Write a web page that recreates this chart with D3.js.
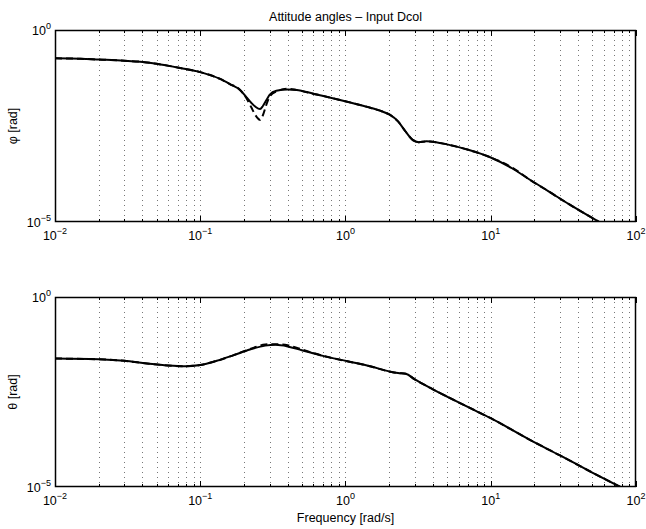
<!DOCTYPE html>
<html>
<head>
<meta charset="utf-8">
<script src="https://cdn.jsdelivr.net/npm/d3@7"></script>
<style>
  body { margin: 0; background: #fff; }
  text { font-family: "Liberation Sans", Arial, Helvetica, sans-serif; fill: #000; }
</style>
</head>
<body>
<div class="chart"></div>
<script>
// frequency points [rad/s]
const phiFreq = [0.01, 0.015, 0.02, 0.03, 0.0385, 0.05, 0.073, 0.1, 0.137, 0.16, 0.188, 0.21, 0.225, 0.24, 0.258, 0.27, 0.285, 0.3, 0.334, 0.4, 0.46, 0.6, 0.916, 1.2, 1.5, 1.73, 2.0, 2.3, 2.6, 2.9, 3.2, 3.6, 4.2, 5, 7, 10, 14, 18.6, 25, 35, 56, 70]
// model (solid) and measured (dashed)
const phiSolid = [0.1832, 0.1778, 0.1698, 0.1585, 0.1493, 0.1318, 0.102, 0.08, 0.0531, 0.0391, 0.0275, 0.017, 0.0126, 0.01, 0.0087, 0.0105, 0.0148, 0.0204, 0.0263, 0.0282, 0.0275, 0.0219, 0.0151, 0.0117, 0.00933, 0.00794, 0.00631, 0.00417, 0.00224, 0.00138, 0.0012, 0.00126, 0.0012, 0.00105, 0.000759, 0.000479, 0.000251, 0.000126, 6.31e-5, 2.82e-5, 1.0e-5, 6.31e-6]
const phiDashed = [0.1832, 0.1778, 0.1698, 0.1585, 0.1493, 0.1318, 0.102, 0.08, 0.0531, 0.0391, 0.0275, 0.0158, 0.00955, 0.00603, 0.00457, 0.00603, 0.0112, 0.0182, 0.0251, 0.0295, 0.0275, 0.0219, 0.0151, 0.0117, 0.00933, 0.00794, 0.00631, 0.00417, 0.00224, 0.00138, 0.0012, 0.00126, 0.0012, 0.00105, 0.000759, 0.000479, 0.000263, 0.000126, 6.31e-5, 2.82e-5, 1.0e-5, 6.31e-6]

const thetaFreq = [0.01, 0.02, 0.03, 0.043, 0.06, 0.079, 0.1, 0.13, 0.17, 0.22, 0.28, 0.33, 0.4, 0.5, 0.7, 1.03, 1.5, 2.0, 2.3, 2.6, 3.0, 4, 5, 7, 10, 18.6, 30, 50, 78, 90]
const thetaSolid = [0.024, 0.0229, 0.0209, 0.0178, 0.0158, 0.0151, 0.0162, 0.0209, 0.0295, 0.0417, 0.0525, 0.055, 0.0501, 0.0398, 0.0282, 0.0204, 0.0148, 0.011, 0.01, 0.00955, 0.00676, 0.00372, 0.0024, 0.00126, 0.000646, 0.000174, 6.76e-5, 2.4e-5, 1.0e-5, 7.59e-6]
const thetaDashed = [0.024, 0.0229, 0.0209, 0.0178, 0.0158, 0.0151, 0.0162, 0.0209, 0.0295, 0.0427, 0.0562, 0.0575, 0.0537, 0.0417, 0.0282, 0.0204, 0.0148, 0.011, 0.01, 0.00955, 0.00676, 0.00372, 0.0024, 0.00126, 0.000646, 0.000174, 6.76e-5, 2.4e-5, 1.0e-5, 7.59e-6]

const xTicks = [-2, -1, 0, 1, 2]   // exponents
const yTicks = [-5, 0]

const width = 646, height = 529
const left = 55, right = 636

const svg = d3.select(".chart")
    .append("svg")
        .attr("width", width)
        .attr("height", height)

svg.append("text")
    .attr("x", (left + right) / 2)
    .attr("y", 21)
    .attr("text-anchor", "middle")
    .style("font-size", "12.5px")
    .text("Attitude angles \u2013 Input Dcol")

function supLabel(g, x, y, exp, anchor) {
    const t = g.append("text")
        .attr("x", x)
        .attr("y", y)
        .attr("text-anchor", anchor)
        .style("font-size", "12.5px")
    t.append("tspan").text("10")
    t.append("tspan")
        .attr("dy", -6)
        .style("font-size", "9px")
        .text(exp < 0 ? "\u2212" + (-exp) : exp)
}

function makePanel(top, bottom, freq, solid, dashed, ylabel, id) {
    const x = d3.scaleLog().domain([1e-2, 1e2]).range([left, right])
    const y = d3.scaleLog().domain([1e-5, 1]).range([bottom, top])
    const g = svg.append("g")

    g.append("clipPath").attr("id", id)
        .append("rect")
            .attr("x", left).attr("y", top)
            .attr("width", right - left).attr("height", bottom - top)

    // dotted grid at every decade and sub-decade
    const gridVals = []
    for (let e = -2; e < 2; e++) {
        for (let i = 1; i < 10; i++) {
            if (e === -2 && i === 1) continue
            gridVals.push(i * Math.pow(10, e))
        }
    }
    g.selectAll(".grid")
        .data(gridVals)
        .enter()
        .append("line")
            .attr("x1", d => Math.round(x(d)) + 0.5)
            .attr("x2", d => Math.round(x(d)) + 0.5)
            .attr("y1", top)
            .attr("y2", bottom)
            .attr("stroke", "#777")
            .attr("stroke-width", 1)
            .attr("stroke-dasharray", "1,4")

    // inward ticks, top and bottom
    const minor = gridVals.filter(d => Math.abs(Math.log10(d) - Math.round(Math.log10(d))) > 1e-6)
    const major = xTicks.map(e => Math.pow(10, e))
    ;[[top, 1], [bottom, -1]].forEach(([yy, dir]) => {
        g.selectAll(null).data(minor).enter().append("line")
            .attr("x1", d => Math.round(x(d)) + 0.5)
            .attr("x2", d => Math.round(x(d)) + 0.5)
            .attr("y1", yy).attr("y2", yy + dir * 3)
            .attr("stroke", "#000")
        g.selectAll(null).data(major).enter().append("line")
            .attr("x1", d => Math.round(x(d)) + 0.5)
            .attr("x2", d => Math.round(x(d)) + 0.5)
            .attr("y1", yy).attr("y2", yy + dir * 6)
            .attr("stroke", "#000")
    })

    const line = d3.line()
        .curve(d3.curveMonotoneX)
        .x((d, i) => x(freq[i]))
        .y(d => y(d))

    g.append("path")
        .datum(dashed)
        .attr("clip-path", "url(#" + id + ")")
        .attr("fill", "none")
        .attr("stroke", "#000")
        .attr("stroke-width", 2)
        .attr("stroke-dasharray", "7,4")
        .attr("d", line)

    g.append("path")
        .datum(solid)
        .attr("clip-path", "url(#" + id + ")")
        .attr("fill", "none")
        .attr("stroke", "#000")
        .attr("stroke-width", 2)
        .attr("d", line)

    // axes box
    g.append("rect")
        .attr("x", left + 0.5).attr("y", top + 0.5)
        .attr("width", right - left - 1).attr("height", bottom - top - 1)
        .attr("fill", "none")
        .attr("stroke", "#000")
        .attr("stroke-width", 1.5)

    // tick labels
    xTicks.forEach(e => supLabel(g, x(Math.pow(10, e)), bottom + 18, e, "middle"))
    yTicks.forEach(e => supLabel(g, left - 4, y(Math.pow(10, e)) + 5, e, "end"))

    g.append("text")
        .attr("transform", "translate(17," + ((top + bottom) / 2) + ")rotate(-90)")
        .attr("text-anchor", "middle")
        .style("font-size", "12.5px")
        .text(ylabel)
}

makePanel(30, 222, phiFreq, phiSolid, phiDashed, "\u03c6 [rad]", "clipPhi")
makePanel(297, 487, thetaFreq, thetaSolid, thetaDashed, "\u03b8 [rad]", "clipTheta")

svg.append("text")
    .attr("x", (left + right) / 2)
    .attr("y", 522)
    .attr("text-anchor", "middle")
    .style("font-size", "12.5px")
    .text("Frequency [rad/s]")
</script>
</body>
</html>
